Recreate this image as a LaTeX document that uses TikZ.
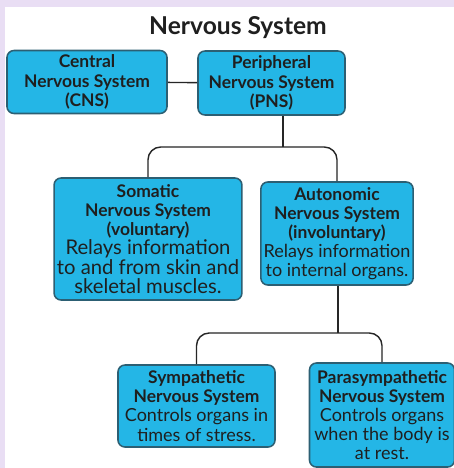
\documentclass[tikz,border=0pt]{standalone}
\usepackage{fontspec}
\setmainfont{Lato}
\usetikzlibrary{positioning,calc}
\definecolor{nervecyan}{HTML}{24B6E6}
\definecolor{nerveedge}{HTML}{2C5F73}
\definecolor{pagelilac}{HTML}{E9DEF4}
\definecolor{linkgray}{HTML}{262626}
\tikzset{
  sysbox/.style={draw=nerveedge,line width=1.1pt,rounded corners=5pt,fill=nervecyan,align=center,inner sep=2pt,font=\fontsize{12.4}{13.6}\selectfont\bfseries,text=black!88},
  link/.style={draw=linkgray,line width=1pt},
  tree/.style={link,rounded corners=9pt}
}
\newcommand{\dsc}[1]{{\mdseries\fontsize{12.8}{13.6}\selectfont #1}}
\newcommand{\bigdsc}[1]{{\mdseries\fontsize{14.4}{13.6}\selectfont #1}}

\begin{document}
\begin{tikzpicture}[x=0.025cm,y=-0.025cm]
  % page and frame
  \fill[pagelilac] (0,0) rectangle (454,468);
  \fill[white] (5,7) rectangle (454,468);
  \useasboundingbox (0,0) rectangle (454,468);
  \node[font=\fontsize{17.5}{19}\selectfont\bfseries,text=black!88] (title) at (238,28) {Nervous System};
  % top row
  \node[sysbox,minimum width=4cm,minimum height=1.575cm] (cns) at (87,82) {Central\\Nervous System\\(CNS)};
  \node[sysbox,minimum width=3.675cm,minimum height=1.6cm] (pns) at (271.5,83) {Peripheral\\Nervous System\\(PNS)};
  % second row
  \node[sysbox,minimum width=4.5cm,minimum height=3.05cm] (somatic) at (148,239) {Somatic\\Nervous System\\(voluntary)\\\bigdsc{Relays information}\\\bigdsc{to and from skin and}\\\bigdsc{skeletal muscles.}};
  \node[sysbox,minimum width=3.8cm,minimum height=2.575cm] (autonomic) at (337,233.5) {Autonomic\\Nervous System\\(involuntary)\\\dsc{Relays information}\\\dsc{to internal organs.}};
  % third row
  \node[sysbox,minimum width=3.925cm,minimum height=2.05cm] (sympathetic) at (196.5,406) {Sympathetic\\Nervous System\\\dsc{Controls organs in}\\\dsc{times of stress.}};
  \node[sysbox,minimum width=3.625cm,minimum height=2.6cm] (parasym) at (382,415) {Parasympathetic\\Nervous System\\\dsc{Controls organs}\\\dsc{when the body is}\\\dsc{at rest.}};
  % connectors
  \coordinate (split1) at (283,147);
  \coordinate (split2) at (338,333);
  \draw[link] (cns) -- (pns);
  \draw[link] (pns.south -| split1) -- (split1);
  \draw[tree] (somatic.north) |- (split1) -| (autonomic.north);
  \draw[link] (autonomic.south -| split2) -- (split2);
  \draw[tree] (sympathetic.north) |- (split2) -| (parasym.north);
\end{tikzpicture}
\end{document}
